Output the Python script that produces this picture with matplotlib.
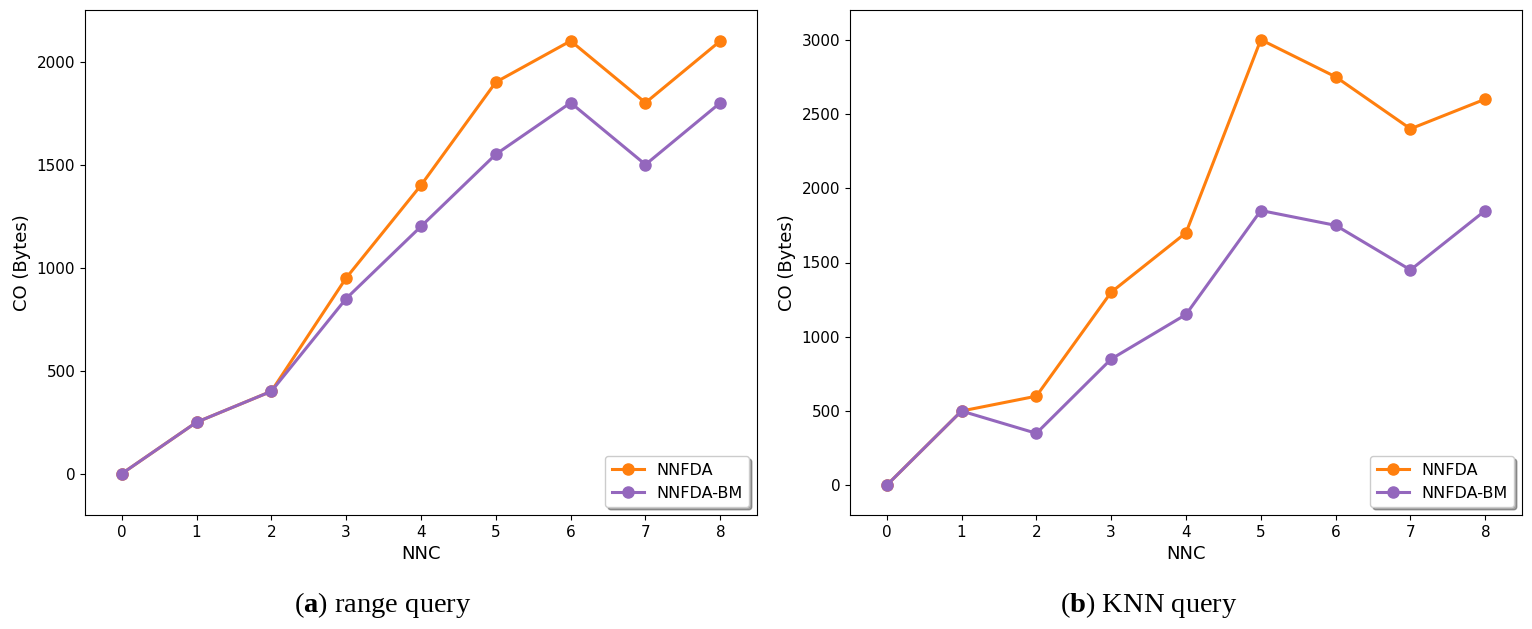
import matplotlib
matplotlib.use("Agg")
import matplotlib.pyplot as plt

nnc = [0, 1, 2, 3, 4, 5, 6, 7, 8]

range_nnfda = [0, 250, 400, 950, 1400, 1900, 2100, 1800, 2100]
range_nnfda_bm = [0, 250, 400, 850, 1200, 1550, 1800, 1500, 1800]

knn_nnfda = [0, 500, 600, 1300, 1700, 3000, 2750, 2400, 2600]
knn_nnfda_bm = [0, 500, 350, 850, 1150, 1850, 1750, 1450, 1850]

ORANGE = "#ff7f0e"
PURPLE = "#9467bd"

# serif bold letter in the captions
plt.rcParams["mathtext.fontset"] = "custom"
plt.rcParams["mathtext.rm"] = "Liberation Serif"
plt.rcParams["mathtext.bf"] = "Liberation Serif:bold"


def draw_panel(ax, a_vals, b_vals, ylim):
    ax.plot(nnc, a_vals, color=ORANGE, marker="o", lw=2.2, ms=8, label="NNFDA")
    ax.plot(nnc, b_vals, color=PURPLE, marker="o", lw=2.2, ms=8, label="NNFDA-BM")
    ax.set_xlim(-0.49, 8.49)
    ax.set_ylim(*ylim)
    ax.set_xticks(nnc)
    ax.tick_params(labelsize=11)
    ax.set_xlabel("NNC", fontsize=13)
    ax.set_ylabel("CO (Bytes)", fontsize=13)
    ax.legend(loc="lower right", fontsize=11.5, shadow=True, fancybox=True)


fig = plt.figure(figsize=(15.32, 6.29), dpi=100)
W, H = 1532, 629
ax1 = fig.add_axes([85 / W, 1 - 515 / H, 672 / W, 505 / H])
ax2 = fig.add_axes([850 / W, 1 - 515 / H, 672 / W, 505 / H])

draw_panel(ax1, range_nnfda, range_nnfda_bm, (-200, 2250))
draw_panel(ax2, knn_nnfda, knn_nnfda_bm, (-200, 3200))

cap_font = ["Liberation Serif", "DejaVu Serif"]
fig.text(383 / W, 1 - 605 / H, r"($\mathbf{a}$) range query", ha="center", va="center",
         fontsize=20.5, family=cap_font)
fig.text(1149 / W, 1 - 605 / H, r"($\mathbf{b}$) KNN query", ha="center", va="center",
         fontsize=20.5, family=cap_font)

fig.savefig("out.png", dpi=100)
